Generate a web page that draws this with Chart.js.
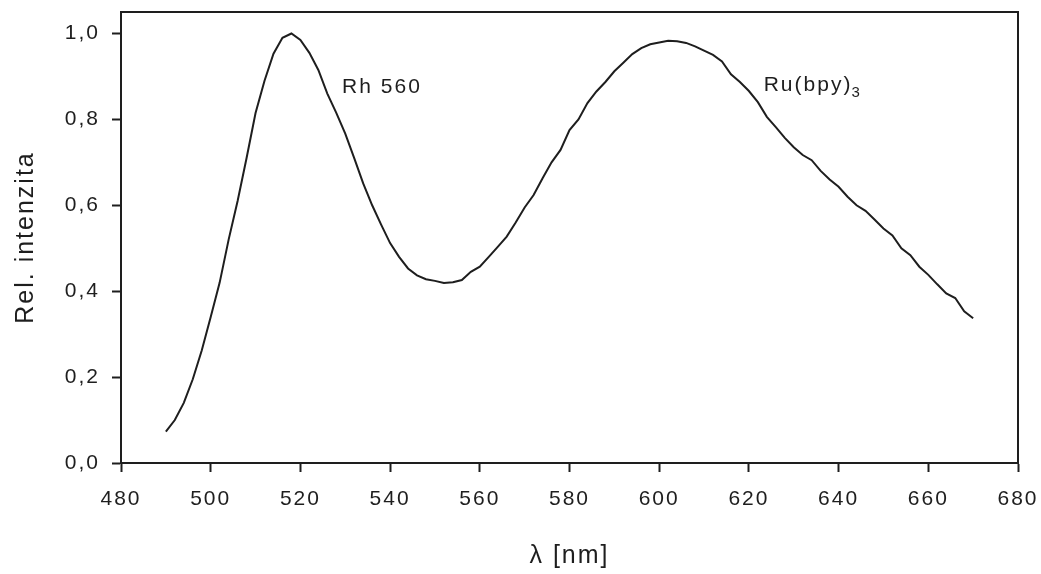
<!DOCTYPE html>
<html lang="it">
<head>
    <meta charset="UTF-8" />
    <title>Rel. intenzita</title>
    <script src="https://cdn.jsdelivr.net/npm/chart.js@4"></script>
    <style>
        html, body { margin: 0; padding: 0; background: #fff; }
        #wrap { width: 1041px; height: 574px; }
    </style>
</head>
<body>
    <div id="wrap"><canvas id="chart"></canvas></div>

    <script>
        // wavelength (nm) and relative intensity
        const wavelengths = [
            490, 492, 494, 496, 498, 500, 502, 504, 506, 508,
            510, 512, 514, 516, 518, 520, 522, 524, 526, 528,
            530, 532, 534, 536, 538, 540, 542, 544, 546, 548,
            550, 552, 554, 556, 558, 560, 562, 564, 566, 568,
            570, 572, 574, 576, 578, 580, 582, 584, 586, 588,
            590, 592, 594, 596, 598, 600, 602, 604, 606, 608,
            610, 612, 614, 616, 618, 620, 622, 624, 626, 628,
            630, 632, 634, 636, 638, 640, 642, 644, 646, 648,
            650, 652, 654, 656, 658, 660, 662, 664, 666, 668, 670
        ];
        const intensity = [
            0.073, 0.100, 0.140, 0.195, 0.262, 0.340, 0.420, 0.520, 0.610, 0.710,
            0.815, 0.890, 0.953, 0.990, 1.000, 0.985, 0.955, 0.915, 0.860, 0.815,
            0.767, 0.710, 0.651, 0.600, 0.555, 0.512, 0.480, 0.453, 0.437, 0.428,
            0.424, 0.419, 0.421, 0.426, 0.445, 0.457, 0.480, 0.503, 0.527, 0.560,
            0.595, 0.624, 0.663, 0.700, 0.729, 0.775, 0.800, 0.838, 0.865, 0.887,
            0.912, 0.932, 0.952, 0.966, 0.975, 0.979, 0.983, 0.982, 0.978, 0.970,
            0.960, 0.950, 0.935, 0.905, 0.887, 0.866, 0.840, 0.806, 0.782, 0.757,
            0.735, 0.717, 0.705, 0.680, 0.660, 0.643, 0.620, 0.600, 0.587, 0.567,
            0.546, 0.530, 0.500, 0.484, 0.457, 0.438, 0.416, 0.395, 0.384, 0.353, 0.337
        ];

        // axis ticks
        const xTicks = [480, 500, 520, 540, 560, 580, 600, 620, 640, 660, 680];
        const yTicks = [0, 0.2, 0.4, 0.6, 0.8, 1.0];

        // peak labels: [text, subscript, x (nm), y (rel.)]
        const peakLabels = [
            ["Rh 560", "", 529.3, 0.861],
            ["Ru(bpy)", "3", 623.3, 0.866]
        ];

        const ink = "#1e1e1e";
        const fontFamily = "'Liberation Sans', Arial, sans-serif";

        // the original plot uses slightly tracked-out lettering
        const spacing = {
            id: "spacing",
            beforeDraw(chart) {
                chart.ctx.letterSpacing = "2px";
            }
        };

        // frame on top and right, plus the peak labels
        const frameAndLabels = {
            id: "frameAndLabels",
            afterDraw(chart) {
                const { ctx, chartArea: a, scales } = chart;
                ctx.save();
                ctx.strokeStyle = ink;
                ctx.lineWidth = 2;
                ctx.beginPath();
                ctx.moveTo(a.left, a.top);
                ctx.lineTo(a.right, a.top);
                ctx.lineTo(a.right, a.bottom);
                ctx.stroke();

                ctx.fillStyle = ink;
                ctx.letterSpacing = "2px";
                ctx.textBaseline = "alphabetic";
                ctx.textAlign = "left";
                peakLabels.forEach(([text, sub, nm, val]) => {
                    const x = scales.x.getPixelForValue(nm);
                    const y = scales.y.getPixelForValue(val);
                    ctx.font = "21px " + fontFamily;
                    ctx.fillText(text, x, y);
                    if (sub) {
                        const w = ctx.measureText(text).width;
                        ctx.font = "15px " + fontFamily;
                        ctx.fillText(sub, x + w - 1, y + 6);
                    }
                });
                ctx.restore();
            }
        };

        function noOverflow(scale) {
            scale.paddingLeft = 0;
            scale.paddingRight = 0;
            scale.paddingTop = 0;
            scale.paddingBottom = 0;
        }

        new Chart(document.getElementById("chart"), {
            type: "line",
            data: {
                datasets: [{
                    data: wavelengths.map((w, i) => ({ x: w, y: intensity[i] })),
                    borderColor: ink,
                    borderWidth: 2,
                    pointRadius: 0,
                    tension: 0,
                    fill: false
                }]
            },
            options: {
                responsive: true,
                maintainAspectRatio: false,
                animation: false,
                events: [],
                layout: { padding: { top: 12, right: 23, left: 0, bottom: 0 } },
                plugins: {
                    legend: { display: false },
                    tooltip: { enabled: false }
                },
                scales: {
                    x: {
                        type: "linear",
                        min: 480,
                        max: 680,
                        afterFit(scale) { scale.height = 111; noOverflow(scale); },
                        afterBuildTicks(scale) {
                            scale.ticks = xTicks.map(v => ({ value: v }));
                        },
                        ticks: {
                            color: ink,
                            padding: 15,
                            font: { family: fontFamily, size: 21 }
                        },
                        grid: {
                            drawOnChartArea: false,
                            tickLength: 9,
                            tickWidth: 2,
                            color: ink
                        },
                        border: { color: ink, width: 2 },
                        title: {
                            display: true,
                            text: "λ [nm]",
                            color: ink,
                            padding: { top: 0, bottom: 3 },
                            font: { family: fontFamily, size: 25 }
                        }
                    },
                    y: {
                        min: 0,
                        max: 1.05,
                        afterFit(scale) { scale.width = 121; noOverflow(scale); },
                        afterBuildTicks(scale) {
                            scale.ticks = yTicks.map(v => ({ value: v }));
                        },
                        ticks: {
                            color: ink,
                            padding: 12,
                            font: { family: fontFamily, size: 21 },
                            callback: v => v.toFixed(1).replace(".", ",")
                        },
                        grid: {
                            drawOnChartArea: false,
                            tickLength: 9,
                            tickWidth: 2,
                            color: ink
                        },
                        border: { color: ink, width: 2 },
                        title: {
                            display: true,
                            text: "Rel. intenzita",
                            color: ink,
                            padding: { top: 11, bottom: 0 },
                            font: { family: fontFamily, size: 25 }
                        }
                    }
                }
            },
            plugins: [spacing, frameAndLabels]
        });
    </script>
</body>
</html>
